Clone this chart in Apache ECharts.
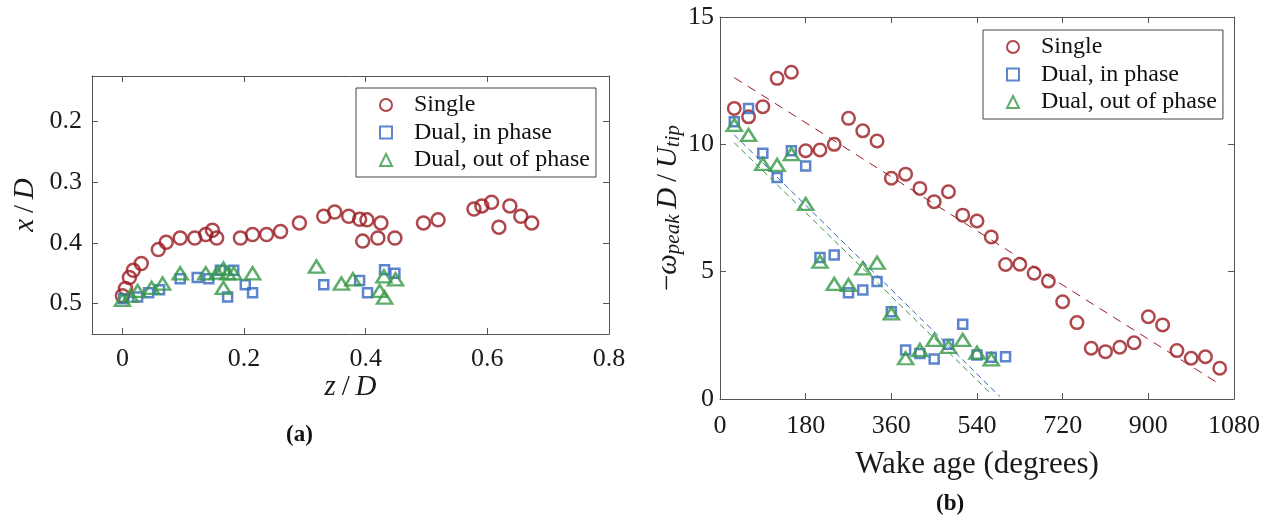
<!DOCTYPE html>
<html><head><meta charset="utf-8">
<script src="https://cdn.jsdelivr.net/npm/echarts@6/dist/echarts.min.js"></script>
<style>html,body{margin:0;padding:0;background:#fff}#c{width:1272px;height:518px}</style>
</head><body><div id="c"></div>
<script>
const legendNames = ['Single', 'Dual, in phase', 'Dual, out of phase'];

// ---- panel (a): [z/D, x/D]
const aSingle = [[0,0.487],[0.005,0.475],[0.0115,0.457],[0.018,0.445],[0.031,0.434],[0.059,0.411],[0.072,0.399],[0.095,0.392],[0.119,0.392],[0.137,0.386],[0.148,0.379],[0.155,0.392],[0.194,0.392],[0.214,0.386],[0.237,0.386],[0.260,0.381],[0.291,0.367],[0.331,0.356],[0.349,0.349],[0.372,0.356],[0.390,0.361],[0.402,0.362],[0.425,0.367],[0.395,0.397],[0.420,0.392],[0.448,0.392],[0.495,0.367],[0.519,0.362],[0.578,0.344],[0.591,0.339],[0.607,0.333],[0.637,0.339],[0.655,0.356],[0.673,0.367],[0.619,0.374]];
const aInPhase = [[0.002,0.492],[0.025,0.489],[0.043,0.482],[0.061,0.477],[0.095,0.459],[0.123,0.457],[0.142,0.459],[0.161,0.445],[0.183,0.445],[0.173,0.489],[0.202,0.469],[0.214,0.482],[0.331,0.469],[0.390,0.462],[0.403,0.482],[0.431,0.444],[0.448,0.450]];
const aOutPhase = [[0,0.494],[0.013,0.487],[0.025,0.479],[0.048,0.474],[0.066,0.467],[0.095,0.450],[0.137,0.450],[0.156,0.449],[0.166,0.442],[0.173,0.450],[0.183,0.450],[0.214,0.450],[0.166,0.474],[0.319,0.439],[0.360,0.467],[0.379,0.460],[0.430,0.455],[0.449,0.460],[0.423,0.479],[0.431,0.490]];
const aXTicks = [0, 0.2, 0.4, 0.6, 0.8];
const aYTicks = [0.2, 0.3, 0.4, 0.5];

// ---- panel (b): wake age (deg) vs -omega_peak D / U_tip
const wakeSingle = [30,60,90,120,150,180,210,240,270,300,330,360,390,420,450,480,510,540,570,600,630,660,690,720,750,780,810,840,870,900,930,960,990,1020,1050];
const vortSingle = [11.41,11.08,11.48,12.59,12.83,9.75,9.78,10.0,11.02,10.53,10.13,8.67,8.83,8.27,7.75,8.14,7.22,6.99,6.36,5.28,5.29,4.94,4.63,3.82,3.0,1.99,1.86,2.03,2.21,3.23,2.91,1.90,1.60,1.66,1.21];
const wakeInPhase = [30,60,90,120,150,180,210,240,270,300,330,360,390,420,450,480,510,540,570,600];
const vortInPhase = [10.89,11.41,9.65,8.70,9.75,9.15,5.56,5.65,4.17,4.28,4.61,3.43,1.92,1.79,1.57,2.15,2.94,1.73,1.64,1.66];
const wakeOutPhase = [30,60,90,120,150,180,210,240,270,300,330,360,390,420,450,480,510,540,570];
const vortOutPhase = [10.76,10.37,9.23,9.19,9.62,7.66,5.39,4.52,4.48,5.13,5.35,3.36,1.60,1.92,2.32,2.05,2.32,1.82,1.56];
const fitSingle = [[30,12.62],[1050,0.58]];
const fitInPhase = [[30,10.37],[588,0.1]];
const fitOutPhase = [[30,10.06],[567,0.25]];

const RED = '#9a1a20', BLUE = '#3366c0', GREEN = '#369846';
const SERIF = '"Liberation Serif", "DejaVu Serif", serif';
const AX = '#555';
const TXT = '#1a1a1a';
const zip = (xs, ys) => xs.map((x, i) => [x, ys[i]]);

function scatter(name, xi, yi, data, symbol, size, color) {
  return { name, type: 'scatter', xAxisIndex: xi, yAxisIndex: yi, data, symbol, symbolSize: size,
    itemStyle: { color: 'rgba(255,255,255,0)', borderColor: color, borderWidth: 2.5 },
    emphasis: { disabled: true }, z: 3 };
}
function fit(name, data, color, dash) {
  return { name, type: 'line', xAxisIndex: 2, yAxisIndex: 2, data, showSymbol: false, symbol: 'none',
    lineStyle: { color, width: 1, type: dash }, z: 4, silent: true };
}
function frameAxis(base) {
  return Object.assign({
    axisLine: { show: true, onZero: false, lineStyle: { color: AX, width: 1 } },
    axisTick: { show: true, inside: true, length: 6, lineStyle: { color: AX } },
    splitLine: { show: false },
  }, base);
}
const tickFont = { fontFamily: SERIF, fontSize: 26, color: TXT };
const it = { fontFamily: SERIF, fontSize: 29, fontStyle: 'italic', color: TXT };
const up = { fontFamily: SERIF, fontSize: 29, color: TXT };
const legendCommon = {
  data: legendNames, orient: 'vertical',
  itemWidth: 12, itemHeight: 12, itemGap: 3.5, padding: [5, 6, 5, 23],
  borderColor: '#444', borderWidth: 1, backgroundColor: '#fff', selectedMode: false,
  textStyle: { fontFamily: SERIF, fontSize: 24, color: '#111', padding: [0, 0, 0, 17] }
};

const chart = echarts.init(document.getElementById('c'), null, { renderer: 'canvas' });
chart.setOption({
  animation: false,
  backgroundColor: '#fff',
  grid: [
    { left: 92, top: 76, width: 517, height: 258 },
    { left: 720, top: 17, width: 514, height: 382 }
  ],
  xAxis: [
    frameAxis({ gridIndex: 0, type: 'value', min: -0.05, max: 0.8, position: 'bottom',
      axisTick: { show: true, inside: true, length: 6, lineStyle: { color: AX }, customValues: aXTicks },
      axisLabel: Object.assign({ margin: 12, customValues: aXTicks, formatter: v => String(v) }, tickFont),
      name: '{i|z}{m|\u2009/\u2009}{i|D}', nameLocation: 'middle', nameGap: 36,
      nameTextStyle: Object.assign({ rich: { i: it, m: up } }, up) }),
    frameAxis({ gridIndex: 0, type: 'value', min: -0.05, max: 0.8, position: 'top',
      axisTick: { show: true, inside: true, length: 6, lineStyle: { color: AX }, customValues: aXTicks },
      axisLabel: { show: false } }),
    frameAxis({ gridIndex: 1, type: 'value', min: 0, max: 1080, interval: 180, position: 'bottom',
      axisLabel: Object.assign({ margin: 14, formatter: v => String(v) }, tickFont),
      name: 'Wake age (degrees)', nameLocation: 'middle', nameGap: 50,
      nameTextStyle: { fontFamily: SERIF, fontSize: 31, color: TXT } }),
    frameAxis({ gridIndex: 1, type: 'value', min: 0, max: 1080, interval: 180, position: 'top',
      axisLabel: { show: false } })
  ],
  yAxis: [
    frameAxis({ gridIndex: 0, type: 'value', min: 0.125, max: 0.55, inverse: true, position: 'left',
      axisTick: { show: true, inside: true, length: 6, lineStyle: { color: AX }, customValues: aYTicks },
      axisLabel: Object.assign({ margin: 10, customValues: aYTicks, formatter: v => v.toFixed(1) }, tickFont),
      name: '{i|x}{m|\u2009/\u2009}{i|D}', nameLocation: 'middle', nameGap: 52, nameRotate: 90,
      nameTextStyle: Object.assign({ rich: { i: it, m: up } }, up) }),
    frameAxis({ gridIndex: 0, type: 'value', min: 0.125, max: 0.55, inverse: true, position: 'right',
      axisTick: { show: true, inside: true, length: 6, lineStyle: { color: AX }, customValues: aYTicks },
      axisLabel: { show: false } }),
    frameAxis({ gridIndex: 1, type: 'value', min: 0, max: 15, interval: 5, position: 'left',
      axisLabel: Object.assign({ margin: 6 }, tickFont),
      name: '{m|\u2212}{i|\u03c9}{s|peak}{i|\u2009D}{m|\u2009/\u2009}{i|U}{s|tip}', nameLocation: 'middle', nameGap: 36, nameRotate: 90,
      nameTextStyle: Object.assign({ rich: {
        m: Object.assign({ lineHeight: 32 }, up),
        i: Object.assign({ lineHeight: 32 }, it),
        s: { fontFamily: SERIF, fontSize: 21, fontStyle: 'italic', color: TXT, verticalAlign: 'bottom', lineHeight: 32, padding: [13, 0, 0, 0] }
      } }, up) }),
    frameAxis({ gridIndex: 1, type: 'value', min: 0, max: 15, interval: 5, position: 'right',
      axisLabel: { show: false } })
  ],
  legend: [
    Object.assign({ left: 356, top: 88 }, legendCommon),
    Object.assign({ left: 983, top: 30 }, legendCommon)
  ],
  graphic: [
    { type: 'text', left: 286, top: 424, style: { text: '(a)', fontFamily: SERIF, fontSize: 23, fontWeight: 'bold', fill: '#111' } },
    { type: 'text', left: 936, top: 493, style: { text: '(b)', fontFamily: SERIF, fontSize: 23, fontWeight: 'bold', fill: '#111' } }
  ],
  series: [
    scatter('Single', 0, 0, aSingle, 'circle', 13, RED),
    scatter('Dual, in phase', 0, 0, aInPhase, 'rect', 9, BLUE),
    scatter('Dual, out of phase', 0, 0, aOutPhase, 'triangle', [15, 12], GREEN),
    scatter('Single', 2, 2, zip(wakeSingle, vortSingle), 'circle', 12.5, RED),
    scatter('Dual, in phase', 2, 2, zip(wakeInPhase, vortInPhase), 'rect', 9, BLUE),
    scatter('Dual, out of phase', 2, 2, zip(wakeOutPhase, vortOutPhase), 'triangle', [15, 12], GREEN),
    fit('fit single', fitSingle, RED, [9, 7]),
    fit('fit in phase', fitInPhase, BLUE, [6, 4]),
    fit('fit out of phase', fitOutPhase, GREEN, [6, 4])
  ]
});
</script></body></html>
